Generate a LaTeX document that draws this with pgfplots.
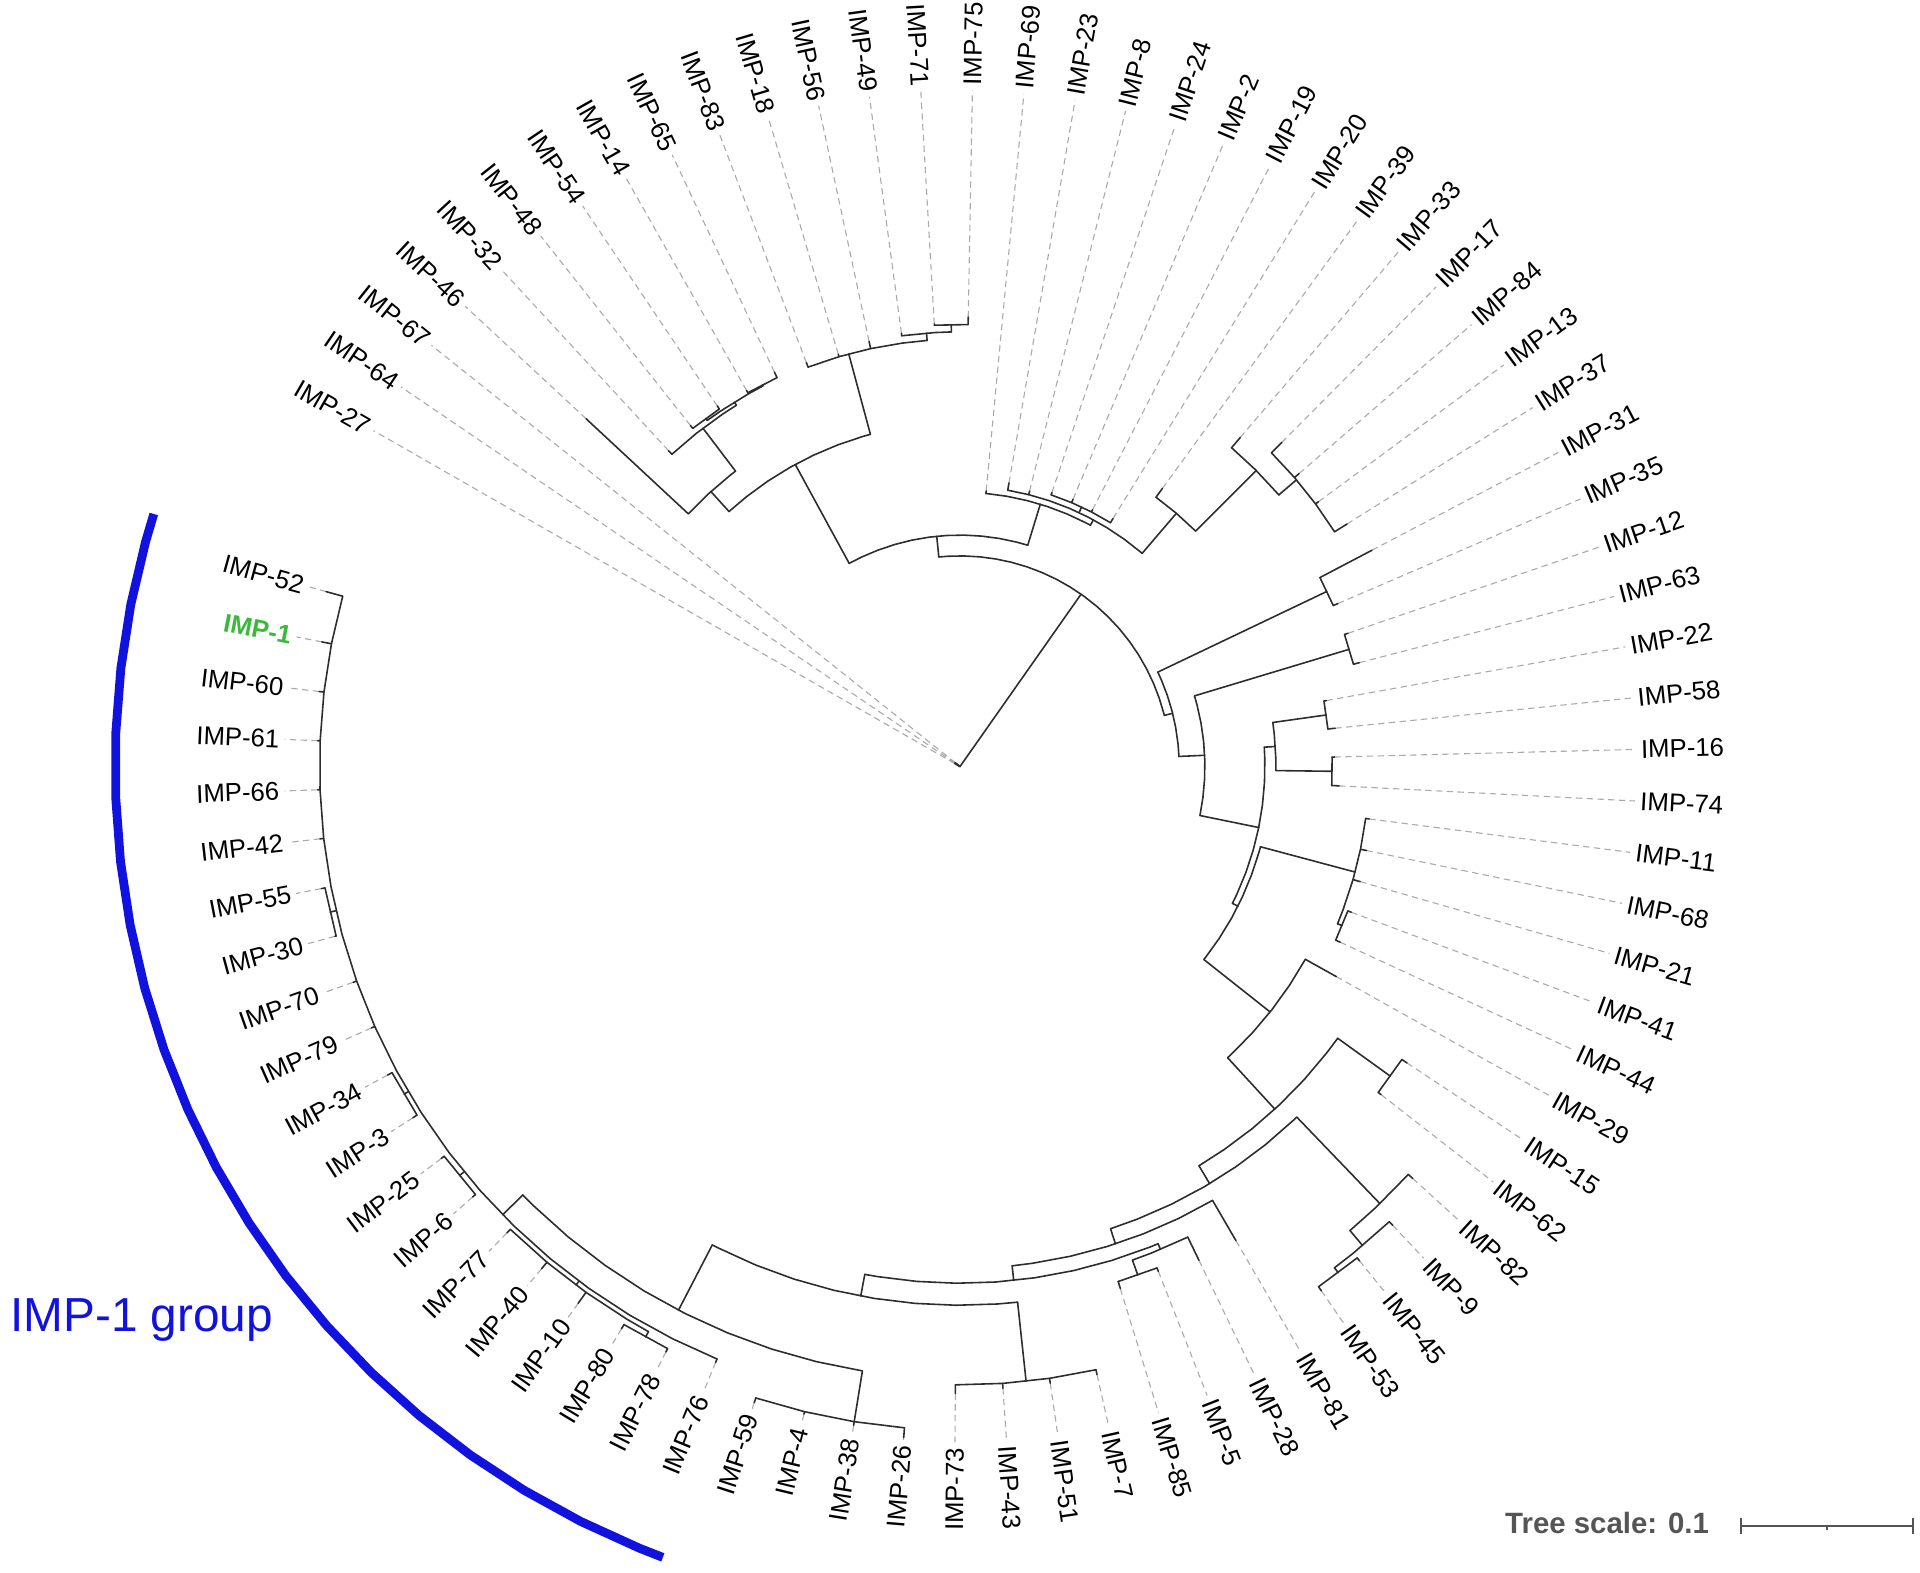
\documentclass[border=0pt]{standalone}
\usepackage{pgfplots}
\pgfplotsset{compat=1.18}
\usepackage{pgfplotstable}
\usepackage{fontspec}
\setmainfont{Liberation Sans}
\definecolor{treec}{RGB}{45,45,45}
\definecolor{dashc}{RGB}{170,170,170}
\definecolor{grpblue}{RGB}{18,18,222}
\definecolor{impgreen}{RGB}{60,185,60}
\definecolor{scalec}{RGB}{85,85,85}
\tikzset{leaflab/.style={font=\fontsize{10.5}{12}\selectfont, inner sep=0pt, text=black},
         imp1lab/.style={inner sep=0pt, text=impgreen, font=\bfseries\fontsize{10.5}{12}\selectfont}}

% leaves: index, parent radius, leaf end radius
\pgfplotstableread{
i rp re
0 0 5
1 0 5
2 0 5
3 303 417
4 347 351
5 352 355
6 352 355
7 351 353
8 351 356
9 349 353
10 349 351
11 349 355
12 355 357
13 361 362
14 361 367
15 224 226
16 229 235
17 229 232
18 234 236
19 234 237
20 234 236
21 234 238
22 272 281
23 342 353
24 361 373
25 361 366
26 361 364
27 361 373
28 332 380
29 332 336
30 332 335
31 332 337
32 302 304
33 302 308
34 304 306
35 304 310
36 334 337
37 334 339
38 334 340
39 338 341
40 338 342
41 323 352
42 433 438
43 433 436
44 495 500
45 511 515
46 516 519
47 516 520
48 410 448
49 427 448
50 440 443
51 440 446
52 505 509
53 505 509
54 505 509
55 505 512
56 542 550
57 542 545
58 542 544
59 542 546
60 523 526
61 532 535
62 532 536
63 527 538
64 527 534
65 527 531
66 528 531
67 528 531
68 527 531
69 527 531
70 523 526
71 523 526
72 528 529
73 528 531
74 523 526
75 523 525
76 523 525
77 523 527
78 523 531
79 523 537
}\leaves

% internal node stems: angle index, parent radius, node radius
\pgfplotstableread{
i rp re
21.78 0 172
12.44 172 189
7.22 189 281
4.12 281 303
5.25 303 347
6.5 347 350
5.5 350 352
7.5 350 351
10.31 281 349
12.75 349 355
13.5 355 361
17.65 189 224
20.25 224 229
19.5 229 234
23.02 229 272
24.05 272 342
25.09 342 361
31.12 172 179
28.5 179 332
33.73 179 200
30.5 200 332
36.97 200 249
33.5 249 258
32.5 258 302
34.5 258 304
40.43 249 254
37.75 254 334
39.5 334 338
43.1 254 323
45.17 323 380
42.5 380 433
47.84 380 397
44.88 397 495
45.75 495 511
46.5 511 516
50.78 397 410
53.54 410 422
49.75 422 427
50.5 427 440
57.33 422 440
53.5 440 505
61.16 440 500
57 500 542
65.32 500 523
63.25 523 527
61.5 527 532
66.5 523 528
68.5 523 527
72.5 523 528
}\stems

% node arcs: angle index, radius (rows with r=1e6 break the line)
\pgfplotstableread[row sep=\\]{
a r\\
12.44 172\\13 172\\14 172\\15 172\\16 172\\17 172\\18 172\\19 172\\20 172\\21 172\\22 172\\23 172\\24 172\\25 172\\26 172\\27 172\\28 172\\29 172\\30 172\\31 172\\31.12 172\\0 1e6\\
7.22 189\\8 189\\9 189\\10 189\\11 189\\12 189\\13 189\\14 189\\15 189\\16 189\\17 189\\17.65 189\\0 1e6\\
4.12 281\\5 281\\6 281\\7 281\\8 281\\9 281\\10 281\\10.31 281\\0 1e6\\
3 303\\4 303\\5 303\\5.25 303\\0 1e6\\
4 347\\5 347\\6 347\\6.5 347\\0 1e6\\
5.5 350\\6 350\\7 350\\7.5 350\\0 1e6\\
5 352\\6 352\\0 1e6\\
7 351\\8 351\\0 1e6\\
9 349\\10 349\\11 349\\12 349\\12.75 349\\0 1e6\\
12 355\\13 355\\13.5 355\\0 1e6\\
13 361\\14 361\\0 1e6\\
15 224\\16 224\\17 224\\18 224\\19 224\\20 224\\20.25 224\\0 1e6\\
16 229\\17 229\\18 229\\19 229\\20 229\\21 229\\22 229\\23 229\\23.02 229\\0 1e6\\
18 234\\19 234\\20 234\\21 234\\0 1e6\\
22 272\\23 272\\24 272\\24.05 272\\0 1e6\\
23 342\\24 342\\25 342\\25.09 342\\0 1e6\\
24 361\\25 361\\26 361\\27 361\\0 1e6\\
28.5 179\\29 179\\30 179\\31 179\\32 179\\33 179\\33.73 179\\0 1e6\\
28 332\\29 332\\0 1e6\\
30.5 200\\31 200\\32 200\\33 200\\34 200\\35 200\\36 200\\36.97 200\\0 1e6\\
30 332\\31 332\\0 1e6\\
33.5 249\\34 249\\35 249\\36 249\\37 249\\38 249\\39 249\\40 249\\40.43 249\\0 1e6\\
32.5 258\\33 258\\34 258\\34.5 258\\0 1e6\\
32 302\\33 302\\0 1e6\\
34 304\\35 304\\0 1e6\\
37.75 254\\38 254\\39 254\\40 254\\41 254\\42 254\\43 254\\43.1 254\\0 1e6\\
36 334\\37 334\\38 334\\39 334\\39.5 334\\0 1e6\\
39 338\\40 338\\0 1e6\\
41 323\\42 323\\43 323\\44 323\\45 323\\45.17 323\\0 1e6\\
42.5 380\\43 380\\44 380\\45 380\\46 380\\47 380\\47.84 380\\0 1e6\\
42 433\\43 433\\0 1e6\\
44.88 397\\45 397\\46 397\\47 397\\48 397\\49 397\\50 397\\50.78 397\\0 1e6\\
44 495\\45 495\\45.75 495\\0 1e6\\
45 511\\46 511\\46.5 511\\0 1e6\\
46 516\\47 516\\0 1e6\\
48 410\\49 410\\50 410\\51 410\\52 410\\53 410\\53.54 410\\0 1e6\\
49.75 422\\50 422\\51 422\\52 422\\53 422\\54 422\\55 422\\56 422\\57 422\\57.33 422\\0 1e6\\
49 427\\50 427\\50.5 427\\0 1e6\\
50 440\\51 440\\0 1e6\\
53.5 440\\54 440\\55 440\\56 440\\57 440\\58 440\\59 440\\60 440\\61 440\\61.16 440\\0 1e6\\
52 505\\53 505\\54 505\\55 505\\0 1e6\\
57 500\\58 500\\59 500\\60 500\\61 500\\62 500\\63 500\\64 500\\65 500\\65.32 500\\0 1e6\\
56 542\\57 542\\58 542\\59 542\\0 1e6\\
60 523\\61 523\\62 523\\63 523\\64 523\\65 523\\66 523\\67 523\\68 523\\69 523\\70 523\\71 523\\72 523\\73 523\\74 523\\75 523\\76 523\\77 523\\78 523\\79 523\\0 1e6\\
61.5 527\\62 527\\63 527\\64 527\\65 527\\0 1e6\\
61 532\\62 532\\0 1e6\\
66 528\\67 528\\0 1e6\\
68 527\\69 527\\0 1e6\\
72 528\\73 528\\
}\arcs

\begin{document}
\begin{tikzpicture}
\begin{axis}[x=0.5pt, y=0.5pt, xmin=-784, xmax=784, ymin=-658, ymax=626,
  hide axis, clip=false, unbounded coords=jump,
  restrict x to domain=-5000:5000, restrict y to domain=-5000:5000]

% dashed leaf extensions
\addplot[dashc, line width=0.45pt, dash pattern=on 2.6pt off 1.8pt,
  quiver={u=(552-\thisrow{re})*cos(150.2-4.375*\thisrow{i}),
          v=(552-\thisrow{re})*sin(150.2-4.375*\thisrow{i})}]
  table[x expr=\thisrow{re}*cos(150.2-4.375*\thisrow{i}),
        y expr=\thisrow{re}*sin(150.2-4.375*\thisrow{i})]{\leaves};

% solid leaf branches
\addplot[treec, line width=0.65pt, line cap=round,
  quiver={u=(\thisrow{re}-\thisrow{rp})*cos(150.2-4.375*\thisrow{i}),
          v=(\thisrow{re}-\thisrow{rp})*sin(150.2-4.375*\thisrow{i})}]
  table[x expr=\thisrow{rp}*cos(150.2-4.375*\thisrow{i}),
        y expr=\thisrow{rp}*sin(150.2-4.375*\thisrow{i})]{\leaves};

% internal stems
\addplot[treec, line width=0.65pt, line cap=round,
  quiver={u=(\thisrow{re}-\thisrow{rp})*cos(150.2-4.375*\thisrow{i}),
          v=(\thisrow{re}-\thisrow{rp})*sin(150.2-4.375*\thisrow{i})}]
  table[x expr=\thisrow{rp}*cos(150.2-4.375*\thisrow{i}),
        y expr=\thisrow{rp}*sin(150.2-4.375*\thisrow{i})]{\stems};

% arcs
\addplot[treec, line width=0.65pt, line cap=round, line join=round]
  table[x expr=\thisrow{r}*cos(150.2-4.375*\thisrow{a}),
        y expr=\thisrow{r}*sin(150.2-4.375*\thisrow{a})]{\arcs};

% IMP-1 group arc
\addplot[grpblue, line width=3.6pt]
  table[row sep=\\, x expr=\thisrow{r}*cos(150.2-4.375*\thisrow{a}),
        y expr=\thisrow{r}*sin(150.2-4.375*\thisrow{a})]{
a r\\59.61 690\\60 690\\61 690\\62 690\\63 690\\64 690\\65 690\\66 690\\67 690\\68 690\\69 690\\70 690\\71 690\\72 690\\73 690\\74 690\\75 690\\76 690\\77 690\\78 690\\79 690\\79.45 690\\
};

% tree scale bar
\addplot[scalec, line width=0.8pt] coordinates {(638,-620.5) (778,-620.5)};
\addplot[scalec, line width=0.8pt] coordinates {(638,-614) (638,-627)};
\addplot[scalec, line width=0.8pt] coordinates {(778,-614) (778,-627)};
\addplot[scalec, line width=0.8pt] coordinates {(708,-620.5) (708,-623.5)};

\node[anchor=east, inner sep=0pt, text=scalec, font=\bfseries\fontsize{12}{14}\selectfont] at (axis cs:612,-618) {Tree scale: 0.1};
\node[anchor=west, inner sep=0pt, text=grpblue, font=\fontsize{19.5}{22}\selectfont] at (axis cs:-776,-452) {IMP-1 group};

% leaf labels
\foreach \i/\n in {0/27,1/64,2/67,3/46,4/32,5/48,6/54,7/14,8/65,9/83,10/18,11/56,12/49,13/71,14/75,15/69,16/23,17/8,18/24,19/2,20/19,21/20,22/39,23/33,24/17,25/84,26/13,27/37,28/31,29/35,30/12,31/63,32/22,33/58,34/16,35/74,36/11,37/68,38/21,39/41,40/44,41/29,42/15,43/62,44/82,45/9,46/45,47/53,48/81,49/28,50/5,51/85,52/7,53/51,54/43,55/73,56/26,57/38,58/4,59/59,60/76,61/78,62/80,63/10,64/40,65/77,66/6,67/25,68/3,69/34,70/79,71/70,72/30,73/55,74/42,75/66,76/61,77/60,78/1,79/52}{%
  \pgfmathsetmacro\ang{150.2-4.375*\i}%
  \pgfmathsetmacro\lx{556*cos(\ang)}%
  \pgfmathsetmacro\ly{556*sin(\ang)}%
  \ifnum\i<14 \pgfmathsetmacro\rot{\ang+180}\def\anc{east}%
  \else\ifnum\i>54 \pgfmathsetmacro\rot{\ang+180}\def\anc{east}%
  \else\let\rot\ang\def\anc{west}\fi\fi
  \ifnum\i=78 \def\lst{imp1lab}\else\def\lst{leaflab}\fi
  \edef\tmp{\noexpand\node[\lst,rotate=\rot,anchor=\anc] at (axis cs:\lx,\ly) {IMP-\n};}%
  \tmp
}
\end{axis}
\pgfresetboundingbox
\path (current axis.south west) rectangle (current axis.north east);
\end{tikzpicture}
\end{document}
